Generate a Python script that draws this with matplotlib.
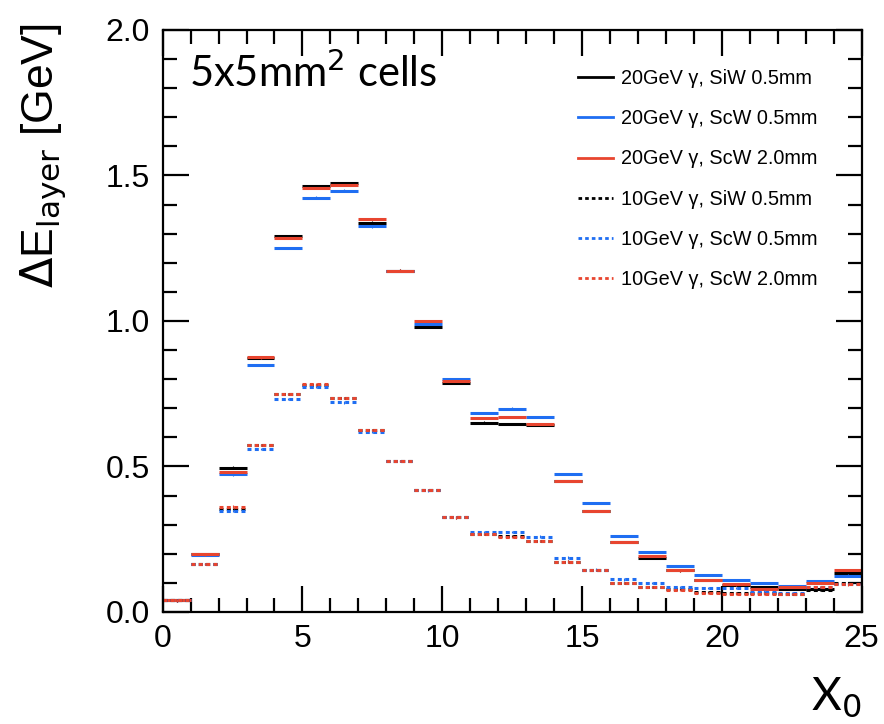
import matplotlib
matplotlib.use("Agg")
import matplotlib.pyplot as plt
from matplotlib.lines import Line2D
from matplotlib.ticker import MultipleLocator, FormatStrFormatter
import numpy as np

# layer bins in units of radiation length
EDGES = np.arange(0, 26, 1)

# energy deposit per layer [GeV]
e20_siw05 = [0.040, 0.198, 0.496, 0.872, 1.293, 1.464, 1.475, 1.338, 1.173, 0.980,
             0.786, 0.651, 0.646, 0.642, 0.449, 0.347, 0.240, 0.186, 0.143, 0.111,
             0.092, 0.087, 0.080, 0.080, 0.135]
e20_scw05 = [0.040, 0.196, 0.473, 0.848, 1.250, 1.424, 1.448, 1.325, 1.172, 0.990,
             0.800, 0.683, 0.699, 0.670, 0.474, 0.374, 0.262, 0.207, 0.159, 0.128,
             0.109, 0.100, 0.090, 0.105, 0.125]
e20_scw20 = [0.040, 0.198, 0.481, 0.875, 1.285, 1.456, 1.468, 1.350, 1.173, 1.000,
             0.794, 0.666, 0.670, 0.645, 0.449, 0.347, 0.240, 0.193, 0.143, 0.111,
             0.095, 0.080, 0.085, 0.100, 0.144]
e10_siw05 = [0.040, 0.164, 0.355, 0.574, 0.748, 0.780, 0.736, 0.625, 0.520, 0.420,
             0.325, 0.268, 0.262, 0.245, 0.173, 0.144, 0.100, 0.086, 0.078, 0.068,
             0.066, 0.065, 0.061, 0.076, 0.100]
e10_scw05 = [0.040, 0.164, 0.347, 0.559, 0.732, 0.774, 0.720, 0.619, 0.518, 0.418,
             0.326, 0.276, 0.276, 0.259, 0.187, 0.146, 0.112, 0.099, 0.087, 0.082,
             0.083, 0.070, 0.065, 0.085, 0.097]
e10_scw20 = [0.040, 0.164, 0.362, 0.574, 0.748, 0.782, 0.736, 0.625, 0.520, 0.420,
             0.325, 0.268, 0.257, 0.245, 0.173, 0.144, 0.099, 0.086, 0.076, 0.066,
             0.063, 0.063, 0.061, 0.085, 0.095]

labels = [
    "20GeV \u03b3, SiW 0.5mm",
    "20GeV \u03b3, ScW 0.5mm",
    "20GeV \u03b3, ScW 2.0mm",
    "10GeV \u03b3, SiW 0.5mm",
    "10GeV \u03b3, ScW 0.5mm",
    "10GeV \u03b3, ScW 2.0mm",
]

BLACK = "#000000"
BLUE = "#1f6ef2"
RED = "#e8452f"
DOTS = (0, (1.3, 1.1))

series = [
    (e20_siw05, BLACK, "-"),
    (e20_scw05, BLUE, "-"),
    (e20_scw20, RED, "-"),
    (e10_siw05, BLACK, DOTS),
    (e10_scw05, BLUE, DOTS),
    (e10_scw20, RED, DOTS),
]

fig = plt.figure(figsize=(8.84, 7.24), dpi=100)
ax = fig.add_axes([0.184, 0.1547, 0.7907, 0.8039])

lo = EDGES[:-1]
hi = EDGES[1:]
centers = 0.5 * (lo + hi)
handles = []
for (vals, col, ls), lab in zip(series, labels):
    ax.hlines(vals, lo, hi, colors=col, linestyles=ls, linewidth=2.2)
    # small statistical error bars at bin centres
    ax.vlines(centers, np.array(vals) - 0.004, np.array(vals) + 0.004,
              colors=col, linewidth=0.8)
    handles.append(Line2D([], [], color=col, linestyle=ls, linewidth=2.0))

ax.set_xlim(0, 25)
ax.set_ylim(0, 2.0)
ax.xaxis.set_major_locator(MultipleLocator(5))
ax.xaxis.set_minor_locator(MultipleLocator(1))
ax.yaxis.set_major_locator(MultipleLocator(0.5))
ax.yaxis.set_minor_locator(MultipleLocator(0.1))
ax.yaxis.set_major_formatter(FormatStrFormatter("%.1f"))
ax.tick_params(which="both", direction="in", top=True, right=True, width=1.6)
ax.tick_params(which="major", length=19, labelsize=23, pad=9)
ax.tick_params(which="minor", length=10)
for lab in ax.get_xticklabels() + ax.get_yticklabels():
    lab.set_family("Liberation Sans")
for sp in ax.spines.values():
    sp.set_linewidth(1.6)

ax.set_ylabel(r"$\Delta$E$_{\mathrm{layer}}$ [GeV]", fontsize=32,
              family="Liberation Sans")
ax.yaxis.set_label_coords(-0.135, 0.785)
ax.text(1.0, -0.108, r"X$_0$", transform=ax.transAxes, ha="right", va="top",
        fontsize=33, family="Lato")
ax.text(0.038, 0.926, r"5x5mm$^2$ cells", transform=ax.transAxes, ha="left",
        va="center", fontsize=30, family="Lato")

leg = ax.legend(handles, labels, loc="upper right", frameon=False,
                labelspacing=1.06, handlelength=1.75, handletextpad=0.38,
                bbox_to_anchor=(0.962, 0.963),
                prop={"family": "Liberation Sans", "size": 14.3})

fig.savefig("out.png", dpi=100)
